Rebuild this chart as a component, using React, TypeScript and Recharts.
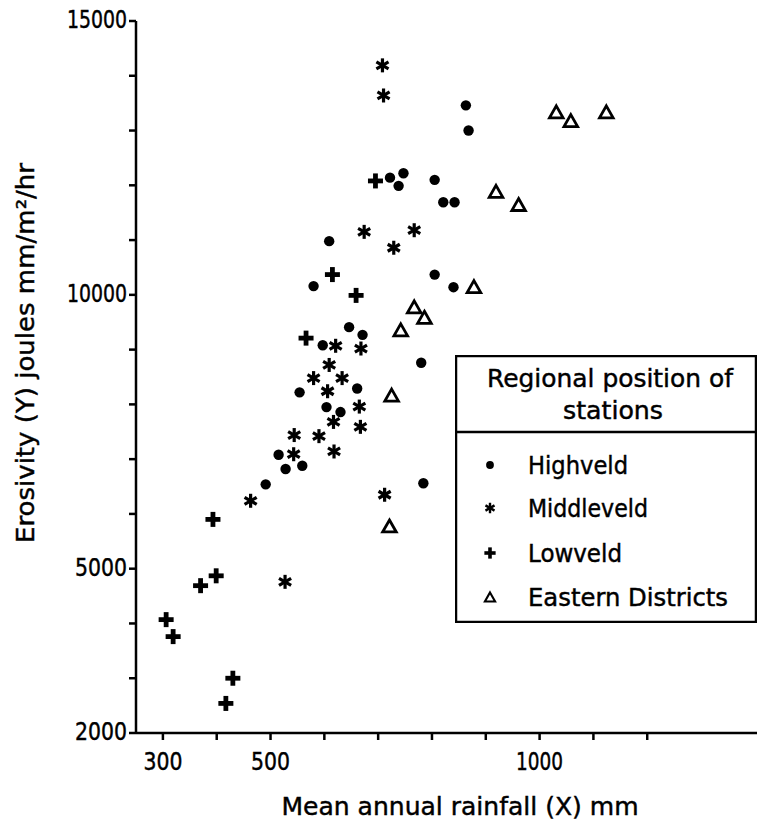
import React from 'react';
import { ScatterChart, Scatter, XAxis, YAxis, Legend } from 'recharts';

const FONT = '"DejaVu Sans", "Liberation Sans", sans-serif';

// Mean annual rainfall (mm) and erosivity values per region
const highveldX = [863, 868, 722, 747, 738, 805, 821, 842, 609, 580, 805, 840, 646, 671, 597, 780, 554, 661, 604, 630, 515, 528, 559, 491, 784];
const highveldY = [13460, 13000, 12140, 12220, 11990, 12100, 11690, 11690, 10980, 10160, 10370, 10140, 9410, 9270, 9080, 8760, 8220, 8290, 7950, 7860, 7080, 6820, 6880, 6540, 6560];

const middleveldX = [708, 710, 674, 767, 729, 621, 668, 609, 580, 633, 606, 617, 665, 667, 544, 590, 618, 543, 463, 712, 527];
const middleveldY = [14190, 13640, 11150, 11180, 10860, 9070, 9020, 8720, 8480, 8480, 8240, 7680, 7960, 7590, 7440, 7420, 7140, 7090, 6240, 6350, 4760];

const lowveldX = [695, 615, 659, 566, 393, 370, 399, 306, 319, 430, 417];
const lowveldY = [12080, 10370, 9990, 9210, 5900, 4690, 4870, 4070, 3760, 3000, 2540];

const easternX = [1031, 1058, 1124, 919, 961, 878, 767, 786, 742, 725, 721];
const easternY = [13340, 13180, 13340, 11890, 11650, 10150, 9780, 9590, 9360, 8170, 5780];

const xTicks = [300, 400, 500, 600, 700, 800, 900, 1000, 1100, 1200];
const xTickLabels = [300, 500, 1000];
const yTicks = [2000, 3000, 4000, 5000, 6000, 7000, 8000, 9000, 10000, 11000, 12000, 13000, 14000, 15000];
const yTickLabels = [2000, 5000, 10000, 15000];

const seriesNames = ['Highveld', 'Middleveld', 'Lowveld', 'Eastern Districts'];
const legendTitle = ['Regional position of', 'stations'];
const xTitle = 'Mean annual rainfall (X) mm';
const yTitle = 'Erosivity (Y) joules mm/m²/hr';

const zip = (xs: number[], ys: number[]) => xs.map((x, i) => ({ x, y: ys[i] }));
const highveld = zip(highveldX, highveldY);
const middleveld = zip(middleveldX, middleveldY);
const lowveld = zip(lowveldX, lowveldY);
const eastern = zip(easternX, easternY);

// narrow lettering: approximate advance per character
const digitsWidth = (s: string) => s.split('').reduce((a, c) => a + (c === '1' ? 8 : 13), 0);

const Dot = ({ cx, cy, s = 1 }: any) => <circle cx={cx} cy={cy} r={5.2 * s} fill="#000" />;

const Star = ({ cx, cy, s = 1 }: any) => {
  const r = 7 * s;
  const angles = [90, 30, 150];
  return (
    <g stroke="#000" strokeWidth={3.2 * s} strokeLinecap="butt">
      {angles.map((a) => {
        const rad = (a * Math.PI) / 180;
        const dx = r * Math.cos(rad);
        const dy = r * Math.sin(rad);
        return <line key={a} x1={cx - dx} y1={cy - dy} x2={cx + dx} y2={cy + dy} />;
      })}
    </g>
  );
};

const Plus = ({ cx, cy, s = 1 }: any) => {
  const h = 7.5 * s;
  const t = 2.4 * s;
  return (
    <g fill="#000">
      <rect x={cx - h} y={cy - t} width={2 * h} height={2 * t} />
      <rect x={cx - t} y={cy - h} width={2 * t} height={2 * h} />
    </g>
  );
};

const Tri = ({ cx, cy, s = 1 }: any) => {
  const w = 6.8 * s;
  const hh = 6 * s;
  return (
    <polygon
      points={`${cx},${cy - hh} ${cx + w},${cy + hh} ${cx - w},${cy + hh}`}
      fill="#fff"
      stroke="#000"
      strokeWidth={2.8 * s}
      strokeLinejoin="miter"
    />
  );
};

const shapeFor: Record<string, any> = {
  Highveld: Dot,
  Middleveld: Star,
  Lowveld: Plus,
  'Eastern Districts': Tri,
};

const itemWidths: Record<string, number> = {
  Highveld: 100,
  Middleveld: 120,
  Lowveld: 94,
  'Eastern Districts': 200,
};

const NText = ({ x, y, len, size = 25, anchor = 'start', children, transform }: any) => (
  <text
    x={x}
    y={y}
    fontFamily={FONT}
    fontSize={size}
    fill="#000"
    stroke="#000"
    strokeWidth={0.45}
    textAnchor={anchor}
    dominantBaseline="central"
    textLength={len}
    lengthAdjust="spacingAndGlyphs"
    transform={transform}
  >
    {children}
  </text>
);

const renderLegend = () => (
  <svg width={302} height={268} style={{ display: 'block' }}>
    <rect x={1} y={1} width={300} height={266} fill="#fff" stroke="#000" strokeWidth={2.5} />
    <line x1={1} y1={77} x2={301} y2={77} stroke="#000" strokeWidth={2.5} />
    <NText x={155} y={23} len={246} anchor="middle">
      {legendTitle[0]}
    </NText>
    <NText x={158} y={55} len={100} anchor="middle">
      {legendTitle[1]}
    </NText>
    {seriesNames.map((name, i) => {
      const Shape = shapeFor[name];
      const cy = [110, 153, 198, 242][i];
      return (
        <g key={name}>
          <Shape cx={35} cy={cy} s={0.75} />
          <NText x={73} y={cy} len={itemWidths[name]}>
            {name}
          </NText>
        </g>
      );
    })}
  </svg>
);

const yLabel = () => (
  <NText x={25} y={353} len={380} size={25} anchor="middle" transform="rotate(-90 25 353)">
    {yTitle}
  </NText>
);

const xLabel = () => (
  <NText x={460} y={806} len={357} size={25} anchor="middle">
    {xTitle}
  </NText>
);

const XTick = (p: any) => {
  const v = p.payload?.value;
  if (!xTickLabels.includes(v)) return null;
  const s = String(v);
  return (
    <NText x={p.x} y={p.y + 22} len={digitsWidth(s)} size={24} anchor="middle">
      {s}
    </NText>
  );
};

const YTick = (p: any) => {
  const v = p.payload?.value;
  if (!yTickLabels.includes(v)) return null;
  const s = String(v);
  return (
    <NText x={p.x} y={p.y - 1} len={digitsWidth(s)} size={24} anchor="end">
      {s}
    </NText>
  );
};

export default function App() {
  return (
    <div style={{ position: 'absolute', left: 0, top: 0, width: 757, height: 824, background: '#fff' }}>
      <ScatterChart width={757} height={824} margin={{ top: 21, right: 0, bottom: 0, left: 0 }}>
        <XAxis
          type="number"
          dataKey="x"
          domain={[250, 1404]}
          ticks={xTicks}
          interval={0}
          allowDataOverflow
          height={91}
          tickSize={7}
          tickMargin={0}
          stroke="#000"
          strokeWidth={2.5}
          tick={XTick}
          label={{ content: xLabel }}
        />
        <YAxis
          type="number"
          dataKey="y"
          domain={[2000, 15000]}
          ticks={yTicks}
          interval={0}
          allowDataOverflow
          width={136}
          tickSize={7}
          tickMargin={2}
          stroke="#000"
          strokeWidth={2.5}
          tick={YTick}
          label={{ content: yLabel }}
        />
        <Legend
          layout="vertical"
          align="center"
          verticalAlign="middle"
          content={renderLegend}
          wrapperStyle={{ left: 455, top: 355, width: 302 }}
        />
        <Scatter name="Highveld" data={highveld} isAnimationActive={false} shape={(p: any) => <Dot cx={p.cx} cy={p.cy} />} />
        <Scatter name="Middleveld" data={middleveld} isAnimationActive={false} shape={(p: any) => <Star cx={p.cx} cy={p.cy} />} />
        <Scatter name="Lowveld" data={lowveld} isAnimationActive={false} shape={(p: any) => <Plus cx={p.cx} cy={p.cy} />} />
        <Scatter name="Eastern Districts" data={eastern} isAnimationActive={false} shape={(p: any) => <Tri cx={p.cx} cy={p.cy} />} />
      </ScatterChart>
    </div>
  );
}
